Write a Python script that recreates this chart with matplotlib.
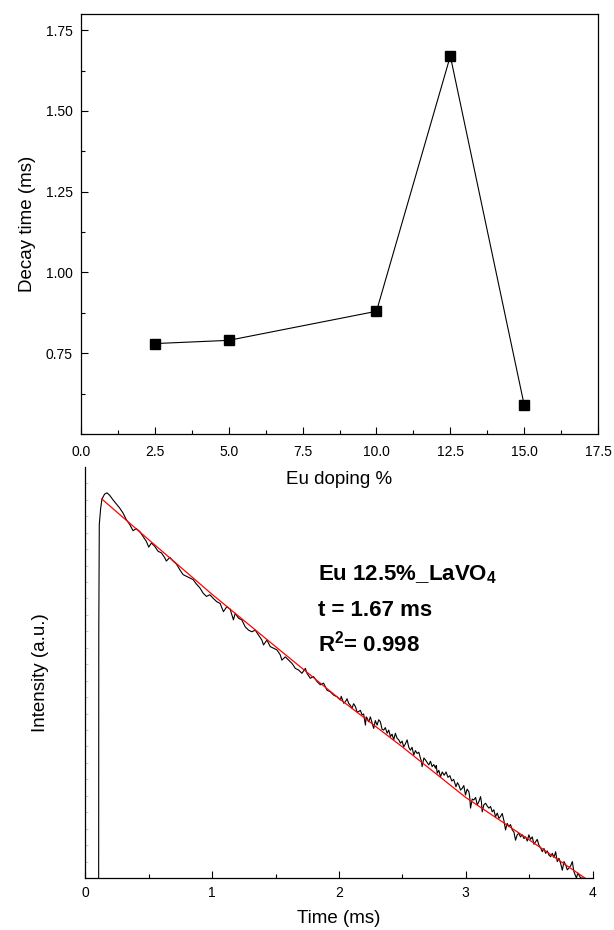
import numpy as np
import matplotlib
matplotlib.use("Agg")
import matplotlib.pyplot as plt
from matplotlib.ticker import MultipleLocator, FormatStrFormatter

plt.rcParams['font.family'] = ['Liberation Sans', 'DejaVu Sans']
plt.rcParams['mathtext.fontset'] = 'custom'
plt.rcParams['mathtext.rm'] = 'Liberation Sans'
plt.rcParams['mathtext.bf'] = 'Liberation Sans:bold'

# -----------------------
# Data: decay time vs Eu doping
# -----------------------
eu_doping = [2.5, 5.0, 10.0, 12.5, 15.0]
decay_time = [0.78, 0.79, 0.88, 1.67, 0.59]

# -----------------------
# Data: decay curve of Eu 12.5% (arbitrary intensity units)
# -----------------------
time_ms = [
    0.105, 0.106, 0.110, 0.121, 0.131, 0.152, 0.171, 0.192, 0.218, 0.244,
    0.271, 0.297, 0.323, 0.350, 0.376, 0.402, 0.429, 0.455, 0.481, 0.500,
    0.521, 0.547, 0.573, 0.600, 0.626, 0.639, 0.666, 0.692, 0.718, 0.745,
    0.771, 0.797, 0.824, 0.850, 0.876, 0.903, 0.929, 0.955, 0.982, 1.010,
    1.037, 1.063, 1.089, 1.116, 1.142, 1.168, 1.182, 1.208, 1.234, 1.261,
    1.287, 1.313, 1.340, 1.366, 1.392, 1.405, 1.432, 1.458, 1.484, 1.511,
    1.537, 1.550, 1.577, 1.603, 1.630, 1.656, 1.682, 1.708, 1.735, 1.748,
    1.774, 1.800, 1.827, 1.853, 1.879, 1.906, 1.932, 1.958, 1.985, 2.011,
    2.018, 2.024, 2.038, 2.051, 2.064, 2.077, 2.090, 2.103, 2.116, 2.130,
    2.143, 2.156, 2.169, 2.182, 2.195, 2.209, 2.215, 2.222, 2.235, 2.248,
    2.261, 2.274, 2.287, 2.301, 2.314, 2.327, 2.340, 2.353, 2.366, 2.380,
    2.393, 2.406, 2.419, 2.432, 2.445, 2.459, 2.472, 2.485, 2.498, 2.511,
    2.525, 2.538, 2.551, 2.564, 2.577, 2.590, 2.603, 2.617, 2.630, 2.643,
    2.650, 2.656, 2.670, 2.683, 2.696, 2.709, 2.722, 2.735, 2.748, 2.762,
    2.768, 2.775, 2.788, 2.801, 2.815, 2.830, 2.845, 2.860, 2.875, 2.890,
    2.905, 2.923, 2.935, 2.946, 2.959, 2.972, 2.985, 2.998, 3.011, 3.025,
    3.031, 3.038, 3.051, 3.064, 3.078, 3.091, 3.104, 3.117, 3.124, 3.130,
    3.143, 3.156, 3.170, 3.183, 3.196, 3.209, 3.222, 3.235, 3.249, 3.262,
    3.275, 3.288, 3.301, 3.314, 3.327, 3.340, 3.353, 3.367, 3.380, 3.393,
    3.406, 3.419, 3.432, 3.446, 3.459, 3.472, 3.485, 3.498, 3.511, 3.525,
    3.538, 3.551, 3.564, 3.577, 3.590, 3.604, 3.617, 3.630, 3.643, 3.656,
    3.670, 3.683, 3.696, 3.709, 3.722, 3.735, 3.748, 3.762, 3.775, 3.788,
    3.801, 3.814, 3.828, 3.841, 3.848, 3.854, 3.863, 3.873, 3.884, 3.894,
    3.907, 3.920,
]
intensity = [
    0.000, 0.600, 0.860, 0.900, 0.922, 0.934, 0.937, 0.931, 0.920, 0.910,
    0.900, 0.888, 0.872, 0.860, 0.845, 0.850, 0.843, 0.831, 0.819, 0.805,
    0.815, 0.807, 0.795, 0.791, 0.779, 0.771, 0.780, 0.771, 0.764, 0.750,
    0.738, 0.734, 0.730, 0.726, 0.715, 0.706, 0.693, 0.685, 0.689, 0.680,
    0.672, 0.668, 0.648, 0.660, 0.654, 0.628, 0.644, 0.632, 0.628, 0.611,
    0.603, 0.599, 0.603, 0.591, 0.579, 0.567, 0.579, 0.563, 0.559, 0.555,
    0.543, 0.530, 0.538, 0.530, 0.522, 0.510, 0.506, 0.498, 0.510, 0.498,
    0.486, 0.490, 0.478, 0.470, 0.474, 0.457, 0.453, 0.445, 0.441, 0.433,
    0.442, 0.437, 0.425, 0.429, 0.436, 0.425, 0.420, 0.413, 0.424, 0.417,
    0.404, 0.405, 0.408, 0.397, 0.399, 0.372, 0.392, 0.389, 0.380, 0.392,
    0.378, 0.364, 0.383, 0.372, 0.385, 0.380, 0.362, 0.360, 0.366, 0.352,
    0.360, 0.344, 0.350, 0.336, 0.352, 0.340, 0.336, 0.328, 0.333, 0.319,
    0.327, 0.336, 0.318, 0.311, 0.318, 0.299, 0.310, 0.303, 0.306, 0.291,
    0.285, 0.271, 0.292, 0.287, 0.281, 0.275, 0.284, 0.271, 0.276, 0.267,
    0.274, 0.255, 0.262, 0.246, 0.258, 0.250, 0.258, 0.245, 0.249, 0.236,
    0.240, 0.222, 0.232, 0.226, 0.214, 0.218, 0.225, 0.202, 0.216, 0.210,
    0.198, 0.170, 0.192, 0.190, 0.196, 0.178, 0.186, 0.198, 0.185, 0.161,
    0.178, 0.182, 0.175, 0.170, 0.174, 0.161, 0.166, 0.149, 0.158, 0.145,
    0.150, 0.157, 0.140, 0.117, 0.133, 0.125, 0.130, 0.117, 0.112, 0.092,
    0.105, 0.109, 0.100, 0.105, 0.096, 0.100, 0.090, 0.105, 0.094, 0.100,
    0.082, 0.088, 0.094, 0.080, 0.074, 0.064, 0.072, 0.060, 0.066, 0.056,
    0.052, 0.060, 0.050, 0.064, 0.040, 0.048, 0.036, 0.019, 0.040, 0.032,
    0.020, 0.024, 0.030, 0.040, 0.025, 0.015, 0.008, 0.000, 0.012, 0.007,
    0.000, 0.000,
]

# single exponential fit (red line)
fit_time = [0.13, 0.50, 1.00, 1.50, 2.00, 2.50, 3.00, 3.50, 3.94]
fit_intensity = [0.922, 0.823, 0.690, 0.563, 0.437, 0.319, 0.196, 0.093, 0.0]

fit_label = ["Eu 12.5%_LaVO$_\\mathbf{4}$", "t = 1.67 ms", "R$^\\mathbf{2}$= 0.998"]

fig = plt.figure(figsize=(6.14, 9.3), dpi=100)

# -----------------------
# Top panel
# -----------------------
ax1 = fig.add_axes([0.132, 0.5333, 0.842, 0.4516])
ax1.plot(eu_doping, decay_time, color='black', lw=0.8, marker='s', ms=6.5)
ax1.set_xlim(0, 17.5)
ax1.set_ylim(0.5, 1.8)
ax1.xaxis.set_major_locator(MultipleLocator(2.5))
ax1.xaxis.set_minor_locator(MultipleLocator(1.25))
ax1.yaxis.set_minor_locator(MultipleLocator(0.125))
ax1.set_yticks([0.75, 1.0, 1.25, 1.5, 1.75])
ax1.xaxis.set_major_formatter(FormatStrFormatter('%.1f'))
ax1.yaxis.set_major_formatter(FormatStrFormatter('%.2f'))
ax1.tick_params(which='major', direction='in', length=5, width=0.8, labelsize=10)
ax1.tick_params(which='minor', direction='in', length=3, width=0.8)
ax1.tick_params(axis='x', pad=8)
ax1.tick_params(axis='y', pad=6)
ax1.set_xlabel("Eu doping %", fontsize=13.5, labelpad=8.5)
ax1.set_ylabel("Decay time (ms)", fontsize=13.5, labelpad=7)
for s in ax1.spines.values():
    s.set_linewidth(0.9)

# -----------------------
# Bottom panel
# -----------------------
ax2 = fig.add_axes([0.139, 0.0559, 0.826, 0.442])
ax2.patch.set_visible(False)
ax2.plot(time_ms, intensity, color='black', lw=0.8)
ax2.plot(fit_time, fit_intensity, color='red', lw=0.9)
ax2.set_xlim(0, 4)
ax2.set_ylim(0, 1)
ax2.xaxis.set_major_locator(MultipleLocator(1))
ax2.xaxis.set_minor_locator(MultipleLocator(0.5))
ax2.set_yticks(np.arange(0, 1.0, 0.04))
ax2.set_yticklabels([])
ax2.tick_params(axis='x', which='major', direction='in', length=5, width=0.8, labelsize=10, pad=6)
ax2.tick_params(axis='x', which='minor', direction='in', length=3, width=0.8)
ax2.tick_params(axis='y', direction='in', length=2, width=0.5, color='0.7')
ax2.spines['top'].set_visible(False)
ax2.spines['right'].set_visible(False)
for s in ['left', 'bottom']:
    ax2.spines[s].set_linewidth(0.9)
ax2.set_xlabel("Time (ms)", fontsize=13.5, labelpad=7)
ax2.set_ylabel("Intensity (a.u.)", fontsize=13.5, labelpad=23)

for i, line in enumerate(fit_label):
    ax2.text(1.837, 0.725 - i * 0.087, line, fontsize=16, fontweight='bold',
             ha='left', va='baseline')

fig.savefig("out.png", dpi=100)
